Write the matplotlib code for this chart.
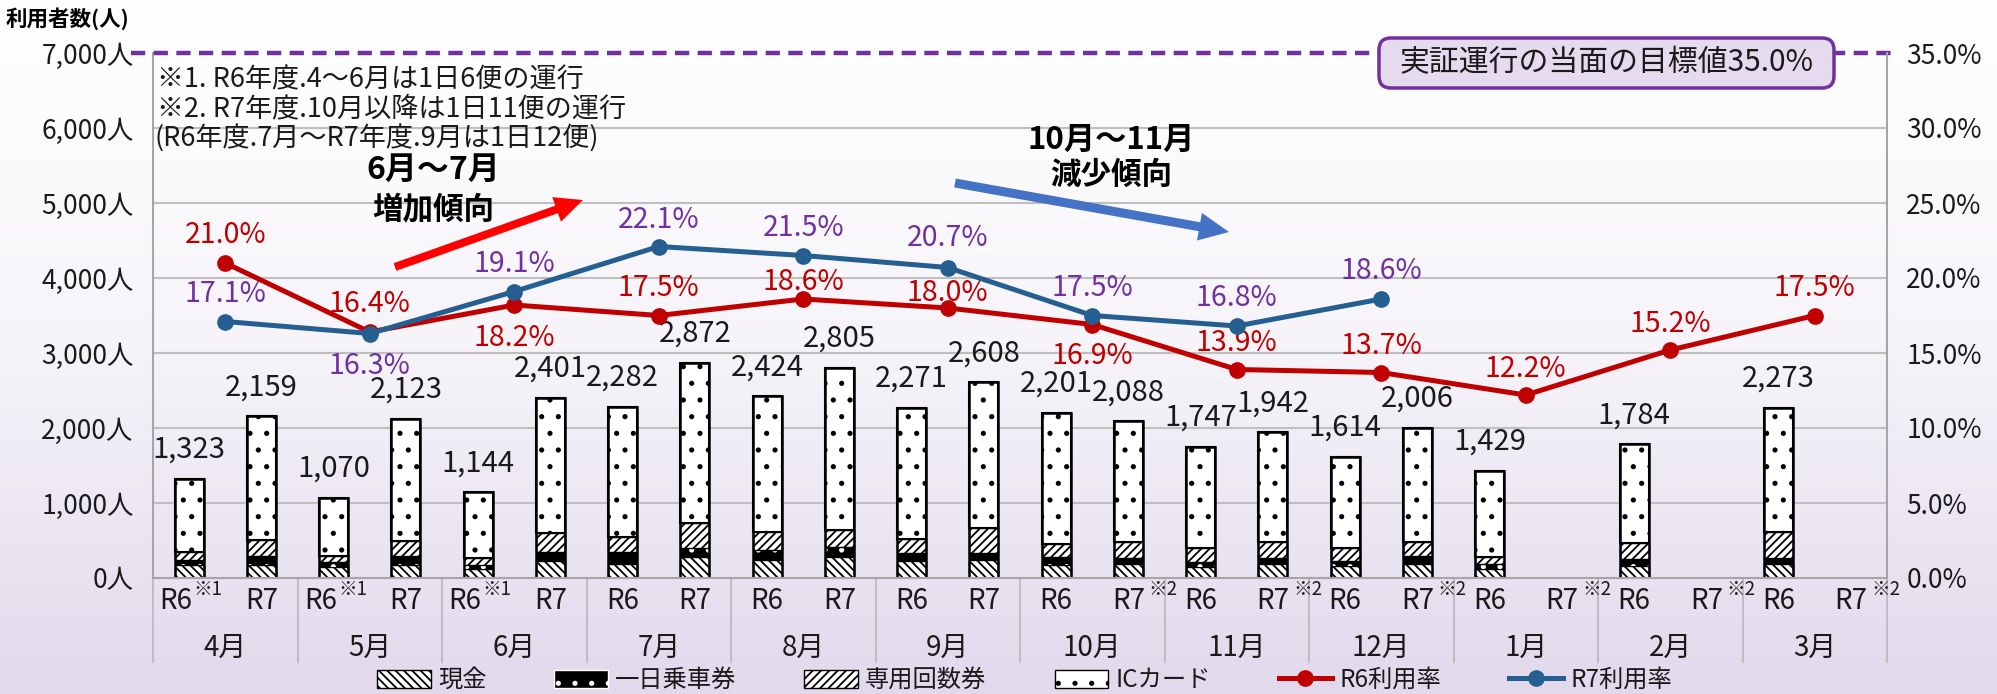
import matplotlib
matplotlib.use('Agg')
from matplotlib import pyplot as plt
from matplotlib.patches import Patch, FancyArrow, FancyBboxPatch
from matplotlib.lines import Line2D
from matplotlib.colors import LinearSegmentedColormap
import matplotlib.transforms as mtransforms
import numpy as np

plt.rcParams['font.family'] = ['Noto Sans CJK JP', 'DejaVu Sans']
plt.rcParams['hatch.linewidth'] = 1.3

## DATA
months = ['4月', '5月', '6月', '7月', '8月', '9月', '10月', '11月', '12月', '1月', '2月', '3月']
r6_note = ['※1', '※1', '※1', '', '', '', '', '', '', '', '', '']
r7_note = ['', '', '', '', '', '', '※2', '※2', '※2', '※2', '※2', '※2']

# R6 (12 months)
r6_cash = [173, 142, 120, 187, 240, 231, 173, 142, 164, 120, 164, 187]
r6_oneday = [67, 67, 53, 155, 133, 102, 111, 67, 67, 67, 89, 80]
r6_kaisu = [102, 80, 89, 209, 244, 186, 169, 186, 164, 98, 213, 351]
r6_ic = [981, 781, 882, 1731, 1807, 1752, 1748, 1352, 1219, 1144, 1318, 1655]
r6_total = [1323, 1070, 1144, 2282, 2424, 2271, 2201, 1747, 1614, 1429, 1784, 2273]
r6_rate = [21.0, 16.4, 18.2, 17.5, 18.6, 18.0, 16.9, 13.9, 13.7, 12.2, 15.2, 17.5]

# R7 (Apr - Dec)
r7_cash = [173, 173, 231, 275, 275, 240, 187, 187, 187]
r7_oneday = [124, 115, 111, 124, 142, 89, 80, 80, 111]
r7_kaisu = [213, 209, 258, 329, 226, 337, 209, 209, 178]
r7_ic = [1649, 1626, 1801, 2144, 2162, 1942, 1612, 1466, 1530]
r7_total = [2159, 2123, 2401, 2872, 2805, 2608, 2088, 1942, 2006]
r7_rate = [17.1, 16.3, 19.1, 22.1, 21.5, 20.7, 17.5, 16.8, 18.6]

## LABEL PLACEMENT (rate label offset in % points)
r6_rate_off = [1.85, 1.85, -2.2, 1.85, 1.1, 1.0, -2.1, 1.75, 1.75, 1.75, 1.75, 1.85]
r7_rate_off = [1.85, -2.2, 1.85, 1.75, 1.8, 1.95, 1.85, 1.85, 1.85]

RED = '#C00000'
BLUE = '#255E91'
PURPLE = '#7030A0'
GRID = '#BFBFBF'
TXT = '#1A1A1A'

W, H = 1997, 694
fig = plt.figure(figsize=(W / 100, H / 100), dpi=100)

## BACKGROUND
bg = fig.add_axes([0, 0, 1, 1], zorder=0)
grad = np.linspace(0, 1, 256).reshape(-1, 1)
bg.imshow(grad, aspect='auto', extent=[0, 1, 0, 1],
          cmap=LinearSegmentedColormap.from_list('bg', ['#FFFFFF', '#F6F4F9', '#E2D9EC']))
bg.axis('off')

## MAIN AXES
ax = fig.add_axes([153 / W, 1 - 578 / H, (1887 - 153) / W, (578 - 53) / H], zorder=1)
ax.patch.set_visible(False)
ax.set_xlim(-0.5, 11.5)
ax.set_ylim(0, 7000)

for v in range(1000, 7000, 1000):
    ax.axhline(v, color=GRID, lw=1.5, zorder=0)
ax.plot([-0.652, 11.555], [7000, 7000], color=PURPLE, lw=3.2, ls=(0, (3.2, 1.9)),
        clip_on=False, zorder=3)

x = np.arange(12)
r6x = x - 0.25
r7x = np.arange(len(r7_total)) + 0.25
bw = 0.2


def stack(xpos, cash, oneday, kaisu, ic, total):
    b = np.zeros(len(xpos))
    ax.bar(xpos, cash, bw, bottom=b, facecolor='white', edgecolor='black',
           hatch='\\\\\\\\', lw=1.0, zorder=2)
    b = b + np.array(cash)
    ax.bar(xpos, oneday, bw, bottom=b, facecolor='black', edgecolor='white',
           hatch='.', lw=0, zorder=2)
    b = b + np.array(oneday)
    ax.bar(xpos, kaisu, bw, bottom=b, facecolor='white', edgecolor='black',
           hatch='////', lw=1.0, zorder=2)
    b = b + np.array(kaisu)
    ax.bar(xpos, ic, bw, bottom=b, facecolor='white', edgecolor='black',
           hatch='.', lw=1.5, zorder=2)
    bars = ax.bar(xpos, total, bw, fill=False, edgecolor='black', lw=1.8, zorder=2)
    ax.bar_label(bars, labels=[f'{t:,}' for t in total], padding=10, fontsize=21,
                 color=TXT, zorder=4)


stack(r6x, r6_cash, r6_oneday, r6_kaisu, r6_ic, r6_total)
stack(r7x, r7_cash, r7_oneday, r7_kaisu, r7_ic, r7_total)

ax.set_yticks(range(0, 7001, 1000))
ax.set_yticklabels([f'{v:,}人' for v in range(0, 7001, 1000)], fontsize=19, color=TXT)
ax.tick_params(axis='y', length=0, pad=14)
ax.set_xticks([])
for s in ['top', 'right']:
    ax.spines[s].set_visible(False)
for s in ['left', 'bottom']:
    ax.spines[s].set_color('#A6A6A6')
    ax.spines[s].set_linewidth(1.5)

## CATEGORY TABLE
trans = mtransforms.blended_transform_factory(ax.transData, ax.transAxes)
for i in range(12):
    sh = -0.09 if r6_note[i] else 0
    ax.text(r6x[i] + sh, -0.044, 'R6', transform=trans, ha='center', va='center', fontsize=20,
            color=TXT)
    ax.text(i + 0.25, -0.044, 'R7', transform=trans, ha='center', va='center', fontsize=20,
            color=TXT)
    if r6_note[i]:
        ax.text(r6x[i] + 0.13, -0.022, r6_note[i], transform=trans, ha='center', va='center',
                fontsize=13.5, color=TXT)
    if r7_note[i]:
        ax.text(i + 0.49, -0.022, r7_note[i], transform=trans, ha='center', va='center',
                fontsize=13.5, color=TXT)
    ax.text(i, -0.133, months[i], transform=trans, ha='center', va='center', fontsize=20,
            color=TXT)
for k in np.arange(-0.5, 12, 1):
    ax.plot([k, k], [0, -0.16], transform=trans, clip_on=False, color=GRID, lw=1.5)

## RATE AXIS
ax2 = ax.twinx()
ax2.set_zorder(2)
ax2.set_ylim(0, 35)
ax2.plot(x, r6_rate, color=RED, lw=3.6, marker='o', ms=11, zorder=3)
ax2.plot(np.arange(len(r7_rate)), r7_rate, color=BLUE, lw=3.6, marker='o', ms=11, zorder=4)
for i, r in enumerate(r6_rate):
    ax2.text(i, r + r6_rate_off[i], f'{r:.1f}%', color=RED, ha='center', va='center', fontsize=20.5)
for i, r in enumerate(r7_rate):
    ax2.text(i, r + r7_rate_off[i], f'{r:.1f}%', color=PURPLE, ha='center', va='center',
             fontsize=20.5)
ax2.set_yticks(np.arange(0, 36, 5))
ax2.set_yticklabels([f'{v:.1f}%' for v in np.arange(0, 36, 5)], fontsize=19, color=TXT)
ax2.tick_params(axis='y', length=0, pad=14)
for s in ['top', 'left', 'bottom']:
    ax2.spines[s].set_visible(False)
ax2.spines['right'].set_color('#A6A6A6')
ax2.spines['right'].set_linewidth(1.5)

## OVERLAY (notes, arrows, box)
ov = fig.add_axes([0, 0, 1, 1], zorder=3)
ov.set_xlim(0, W)
ov.set_ylim(H, 0)
ov.axis('off')

ov.text(6, 19, '利用者数(人)', fontsize=15.5, fontweight='bold', va='center', ha='left')
ov.text(157, 80, '※1. R6年度.4～6月は1日6便の運行', fontsize=19.5, va='center', color=TXT)
ov.text(157, 109, '※2. R7年度.10月以降は1日11便の運行', fontsize=19.5, va='center', color=TXT)
ov.text(155, 138, '(R6年度.7月～R7年度.9月は1日12便)', fontsize=19.5, va='center', color=TXT)

ov.text(433, 170, '6月～7月', fontsize=23, fontweight='bold', ha='center', va='center')
ov.text(433, 209, '増加傾向', fontsize=22, fontweight='bold', ha='center', va='center')
ov.text(1111, 140, '10月～11月', fontsize=22.5, fontweight='bold', ha='center', va='center')
ov.text(1111, 175, '減少傾向', fontsize=22, fontweight='bold', ha='center', va='center')

ov.add_patch(FancyArrow(395, 267, 583 - 395, 200 - 267, width=8, head_width=26, head_length=28,
                        length_includes_head=True, color='#FF0000', lw=0))
ov.add_patch(FancyArrow(955, 183, 1229 - 955, 232 - 183, width=9, head_width=28, head_length=30,
                        length_includes_head=True, color='#4472C4', lw=0))

ov.add_patch(FancyBboxPatch((1379, 38), 455, 50, boxstyle='round,pad=0,rounding_size=12',
                            facecolor='#E6DAEE', edgecolor=PURPLE, lw=2.5))
ov.text(1606, 63, '実証運行の当面の目標値35.0%', fontsize=21.5, ha='center', va='center', color=TXT)

## LEGEND
handles = [
    Patch(facecolor='white', edgecolor='black', hatch='\\\\\\\\', label='現金'),
    Patch(facecolor='black', edgecolor='white', hatch='.', label='一日乗車券'),
    Patch(facecolor='white', edgecolor='black', hatch='////', label='専用回数券'),
    Patch(facecolor='white', edgecolor='black', hatch='.', label='ICカード'),
    Line2D([], [], color=RED, lw=3.6, marker='o', ms=11, label='R6利用率'),
    Line2D([], [], color=BLUE, lw=3.6, marker='o', ms=11, label='R7利用率'),
]
fig.legend(handles=handles, loc='center', bbox_to_anchor=(0.513, 0.02), ncol=6, frameon=False,
           fontsize=17.5, handlelength=2.2, handleheight=0.75, columnspacing=2.8,
           handletextpad=0.3, labelcolor=TXT)

fig.savefig('out.png', dpi=100)
